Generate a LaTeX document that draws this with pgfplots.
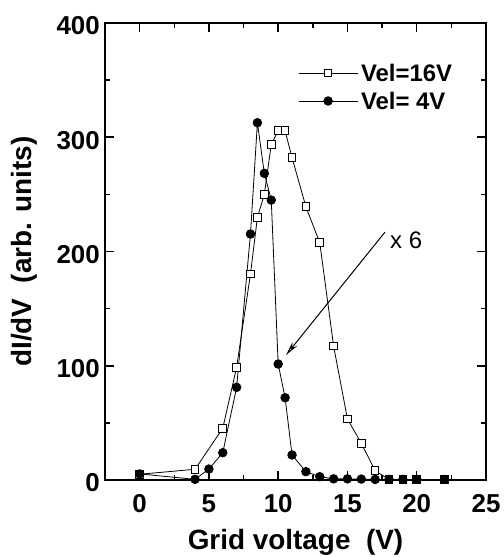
\documentclass[border=0pt]{standalone}
\usepackage{pgfplots}
\pgfplotsset{compat=1.18}
\usepackage{fontspec}
\setmainfont{Liberation Sans}
\usetikzlibrary{arrows.meta}

\pgfplotstableread{
x y
0 5
4 9.4
6 45.3
7 98.6
8 180.3
8.5 229.9
9 250
9.5 293.8
10 305.7
10.5 305.7
11 282.1
12 239.2
13 207.7
14 117.3
15 53.4
16 32.1
17 8.1
18 0.5
19 0.5
20 0.5
22 0.5
}\sixteen

\pgfplotstableread{
x y
0 5.3
4 0.6
5 9.6
6 23.9
7 81.1
8 215.3
8.5 312.7
9 268.4
9.5 245
10 101.5
10.5 72
11 21.9
12 7.3
13 2.9
14 1
15 1
16 0.8
17 0.5
18 0.5
19 0.5
20 0.5
22 0.5
}\four

\begin{document}
\begin{tikzpicture}
\begin{axis}[
  scale only axis, width=381bp, height=457bp,
  xmin=-2.5, xmax=25, ymin=0, ymax=400,
  xtick={0,5,...,25}, ytick={0,100,...,400},
  minor x tick num=1, minor y tick num=1,
  tick align=inside,
  major tick length=9bp, minor tick length=5bp,
  every tick/.style={black, line width=1.5bp},
  axis line style={line width=2bp},
  clip=false,
  /pgf/number format/assume math mode=true,
  ticklabel style={font=\fontsize{26}{26}\selectfont\bfseries, inner sep=0pt},
  xticklabel style={yshift=-14bp},
  yticklabel style={xshift=-5bp, yshift=-3bp},
  xlabel={Grid voltage\ \ (V)},
  ylabel={dI/dV\ \ (arb. units)},
  label style={font=\fontsize{28}{28}\selectfont\bfseries},
  xlabel style={at={(axis description cs:0.5,-0.137)}, anchor=center},
  ylabel style={at={(axis description cs:-0.211,0.5)}, anchor=center},
  legend style={draw=none, fill=none, at={(axis description cs:0.5066,0.86)}, anchor=west,
    font=\fontsize{24}{24}\selectfont\bfseries, row sep=11bp, column sep=3bp, inner sep=0pt,
    nodes={inner sep=0pt, text height=17bp, text depth=0bp}},
  legend cell align=left,
  legend image code/.code={\draw[mark repeat=2,mark phase=2,#1] plot coordinates {(0bp,0bp) (29.5bp,0bp) (59bp,0bp)};},
]
\addplot[black, line width=0.8bp, mark=square*, mark size=3.8bp,
  mark options={fill=white, line width=1bp, solid}] table[x=x,y=y] {\sixteen};
\addlegendentry{Vel=16V}
\addplot[black, line width=0.8bp, mark=*, mark size=4.3bp,
  mark options={fill=black, solid}] table[x=x,y=y] {\four};
\addlegendentry{Vel= 4V}
\draw[-{Stealth[open,length=14bp,width=6bp]}, line width=1bp] (axis cs:17.71,217) -- (axis cs:10.57,109.4);
\node[anchor=west, font=\fontsize{24}{24}\selectfont, inner sep=0pt] at (axis cs:18.07,210) {x 6};
\end{axis}
\pgfresetboundingbox
\path ([shift={(-105bp,-77bp)}]current axis.south west) rectangle ([shift={(18bp,23bp)}]current axis.north east);
\end{tikzpicture}
\end{document}
